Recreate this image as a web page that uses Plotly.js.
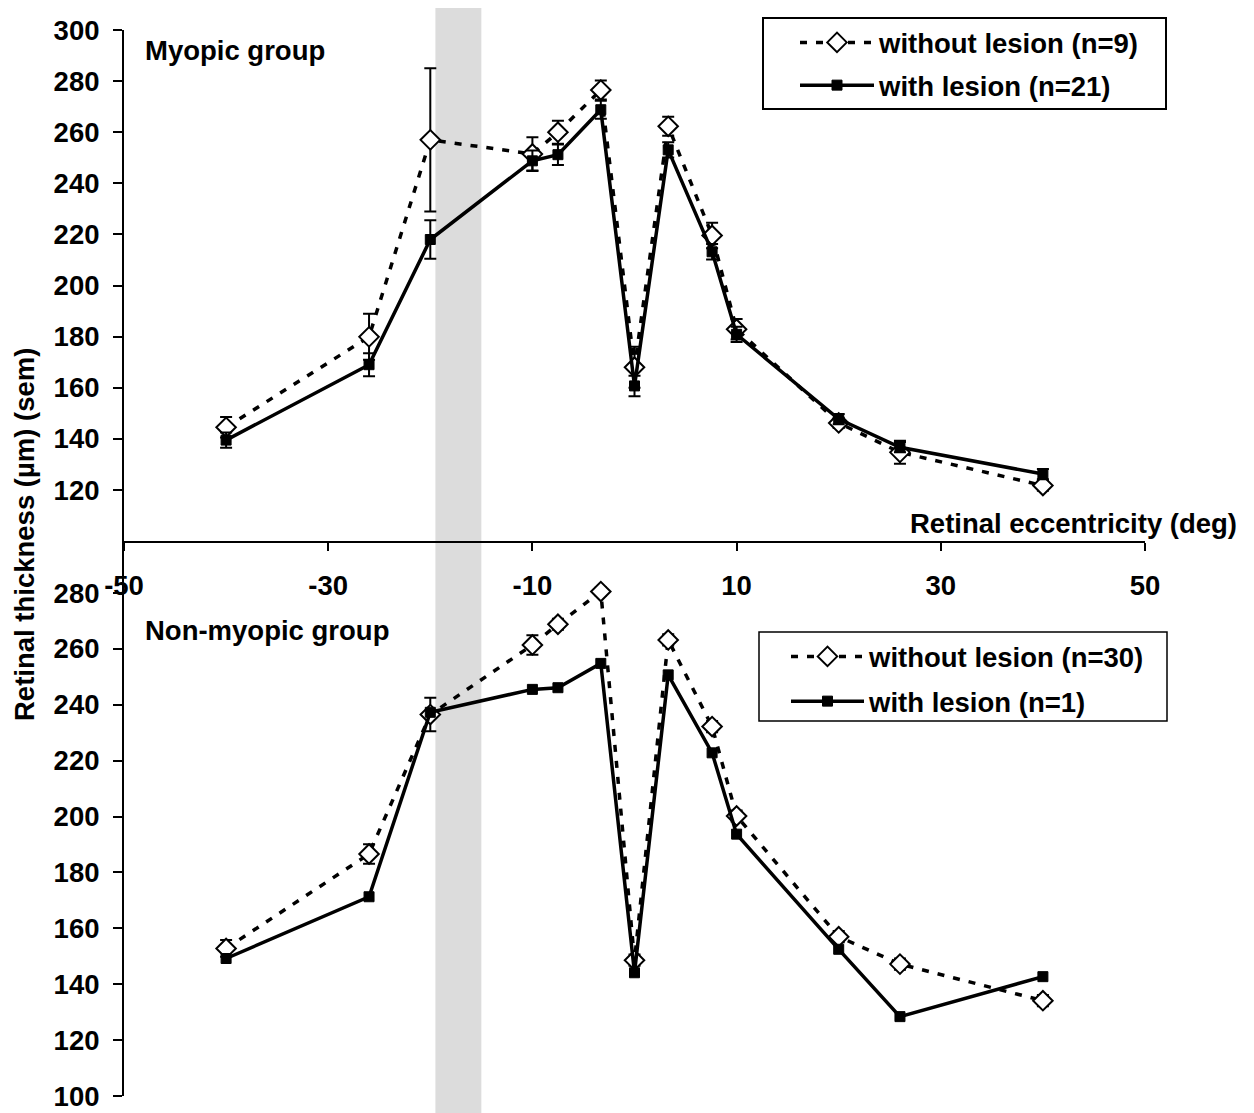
<!DOCTYPE html>
<html>
<head>
<meta charset="utf-8">
<script src="https://cdn.plot.ly/plotly-3.0.1.min.js"></script>
<style>
  html, body { margin: 0; padding: 0; background: #fff; }
  #chart { width: 1254px; height: 1113px; }
</style>
</head>
<body>
<div id="chart"></div>
<script>
// ---- Data ----
const eccentricity = [-40, -26, -20, -10, -7.5, -3.3, 0, 3.3, 7.6, 10, 20, 26, 40];

const myopicWithout     = [144.5, 179.9, 257.0, 251.5, 260.0, 276.5, 168.0, 262.3, 219.6, 182.9, 146.2, 134.7, 121.7];
const myopicWithoutSem  = [4, 9, 28, 6.5, 4.5, 3.7, 8, 3.7, 5, 4, 2, 4.5, 2];
const myopicWith        = [139.5, 169.0, 218.0, 248.8, 251.2, 268.8, 160.7, 253.1, 213.2, 180.9, 147.7, 136.7, 126.2];
const myopicWithSem     = [3, 4.5, 7.5, 4, 4, 3.5, 4, 3, 3, 3, 2, 2, 2];

const nonMyopicWithout    = [152.8, 186.6, 236.5, 261.4, 268.8, 280.5, 148.6, 263.2, 232.2, 200.2, 157.0, 147.2, 134.1];
const nonMyopicWithoutSem = [3, 3.5, 6, 3.5, 2, 1.5, 2, 2, 2, 2, 2, 2, 2];
const nonMyopicWith       = [149.2, 171.3, 237.3, 245.5, 246.1, 254.8, 144.1, 250.7, 222.8, 193.7, 152.5, 128.4, 142.7];

const bandRange = [-19.5, -15];

const xTickVals = [-50, -30, -10, 10, 30, 50];
const xTickText = ['-50', '-30', '-10', '10', '30', '50'];
const topYTickVals = [120, 140, 160, 180, 200, 220, 240, 260, 280, 300];
const bottomYTickVals = [100, 120, 140, 160, 180, 200, 220, 240, 260, 280];

const seriesNames = {
  myoWithout: 'without lesion (n=9)',
  myoWith: 'with lesion (n=21)',
  nonWithout: 'without lesion (n=30)',
  nonWith: 'with lesion (n=1)'
};

// ---- Styling ----
const FONT = 'Liberation Sans, Arial, Helvetica, sans-serif';
const FS = 27.5;
const boldFont = {family: FONT, size: FS, color: '#000', weight: 'bold'};

const dashedLine = {color: '#000', width: 3.5, dash: '7px,9px'};
const solidLine = {color: '#000', width: 3.5};
const diamondMarker = {symbol: 'diamond', size: 15, color: '#fff', line: {color: '#000', width: 2}};
const squareMarker = {symbol: 'square', size: 10, color: '#000', line: {color: '#000', width: 1}};
const errStyle = {type: 'data', visible: true, color: '#000', thickness: 2, width: 6};

const traces = [
  {x: eccentricity, y: myopicWithout, name: seriesNames.myoWithout, mode: 'lines+markers',
   line: dashedLine, marker: diamondMarker, xaxis: 'x', yaxis: 'y', legend: 'legend', legendgroup: 'a',
   error_y: Object.assign({array: myopicWithoutSem}, errStyle)},
  {x: eccentricity, y: myopicWith, name: seriesNames.myoWith, mode: 'lines+markers',
   line: solidLine, marker: squareMarker, xaxis: 'x', yaxis: 'y', legend: 'legend', legendgroup: 'b',
   error_y: Object.assign({array: myopicWithSem}, errStyle)},
  {x: eccentricity, y: nonMyopicWithout, name: seriesNames.nonWithout, mode: 'lines+markers',
   line: dashedLine, marker: diamondMarker, xaxis: 'x2', yaxis: 'y2', legend: 'legend2', legendgroup: 'c',
   error_y: Object.assign({array: nonMyopicWithoutSem}, errStyle)},
  {x: eccentricity, y: nonMyopicWith, name: seriesNames.nonWith, mode: 'lines+markers',
   line: solidLine, marker: squareMarker, xaxis: 'x2', yaxis: 'y2', legend: 'legend2', legendgroup: 'd'}
];

// pixel helpers -> paper coords (plot area: x 124..1145, y 8..1113)
const L = 124, R = 1145, T = 8, B = 1113;
const px = v => (v - L) / (R - L);
const py = v => (B - v) / (B - T);

const axisCommon = {
  showline: true, linecolor: '#000', linewidth: 2,
  ticks: 'outside', tickcolor: '#000', tickwidth: 2,
  showgrid: false, zeroline: false,
  tickfont: boldFont, fixedrange: true
};

const layout = {
  width: 1254, height: 1113,
  margin: {l: L, r: 1254 - R, t: T, b: 1113 - B},
  paper_bgcolor: '#fff', plot_bgcolor: 'rgba(0,0,0,0)',
  font: {family: FONT, color: '#000'},
  showlegend: true,
  xaxis: Object.assign({}, axisCommon, {
    domain: [0, 1], anchor: 'y', range: [-50, 50],
    tickmode: 'array', tickvals: xTickVals, ticktext: xTickText, ticklen: 8, ticklabelstandoff: 11
  }),
  yaxis: Object.assign({}, axisCommon, {
    domain: [py(541), py(30)], anchor: 'x', range: [100, 300],
    tickmode: 'array', tickvals: topYTickVals, ticklen: 9, ticklabelstandoff: 8
  }),
  xaxis2: {
    domain: [0, 1], anchor: 'y2', range: [-50, 50], visible: false, fixedrange: true
  },
  yaxis2: Object.assign({}, axisCommon, {
    domain: [py(1096), py(541)], anchor: 'x2', range: [100, 298.6],
    tickmode: 'array', tickvals: bottomYTickVals, ticklen: 9, ticklabelstandoff: 8
  }),
  legend: {
    x: px(795), y: py(18), xanchor: 'left', yanchor: 'top',
    bgcolor: 'rgba(0,0,0,0)', borderwidth: 0, itemwidth: 74,
    font: boldFont, tracegroupgap: 4, itemclick: false, itemdoubleclick: false
  },
  legend2: {
    x: px(786), y: py(632), xanchor: 'left', yanchor: 'top',
    bgcolor: 'rgba(0,0,0,0)', borderwidth: 0, itemwidth: 73,
    font: boldFont, tracegroupgap: 6, itemclick: false, itemdoubleclick: false
  },
  shapes: [
    {type: 'rect', xref: 'x', yref: 'paper', x0: bandRange[0], x1: bandRange[1], y0: 0, y1: 1,
     fillcolor: '#dcdcdc', line: {width: 0}, layer: 'below'},
    {type: 'rect', xref: 'paper', yref: 'paper', x0: px(763), x1: px(1166), y0: py(109), y1: py(18),
     fillcolor: 'rgba(0,0,0,0)', line: {color: '#000', width: 2}, layer: 'above'},
    {type: 'rect', xref: 'paper', yref: 'paper', x0: px(759), x1: px(1167), y0: py(721), y1: py(632),
     fillcolor: 'rgba(0,0,0,0)', line: {color: '#000', width: 1.5}, layer: 'above'}
  ],
  annotations: [
    {text: 'Myopic group', xref: 'paper', yref: 'paper', x: px(143), y: py(51),
     xanchor: 'left', yanchor: 'middle', showarrow: false, font: boldFont},
    {text: 'Non-myopic group', xref: 'paper', yref: 'paper', x: px(143), y: py(630),
     xanchor: 'left', yanchor: 'middle', showarrow: false, font: boldFont},
    {text: 'Retinal eccentricity (deg)', xref: 'paper', yref: 'paper', x: px(1239), y: py(523),
     xanchor: 'right', yanchor: 'middle', showarrow: false, font: boldFont},
    {text: 'Retinal thickness (µm) (sem)', xref: 'paper', yref: 'paper', x: px(24), y: py(535),
     xanchor: 'center', yanchor: 'middle', textangle: -90, showarrow: false, font: boldFont}
  ]
};

Plotly.newPlot('chart', traces, layout, {displayModeBar: false, staticPlot: true});
</script>
</body>
</html>
